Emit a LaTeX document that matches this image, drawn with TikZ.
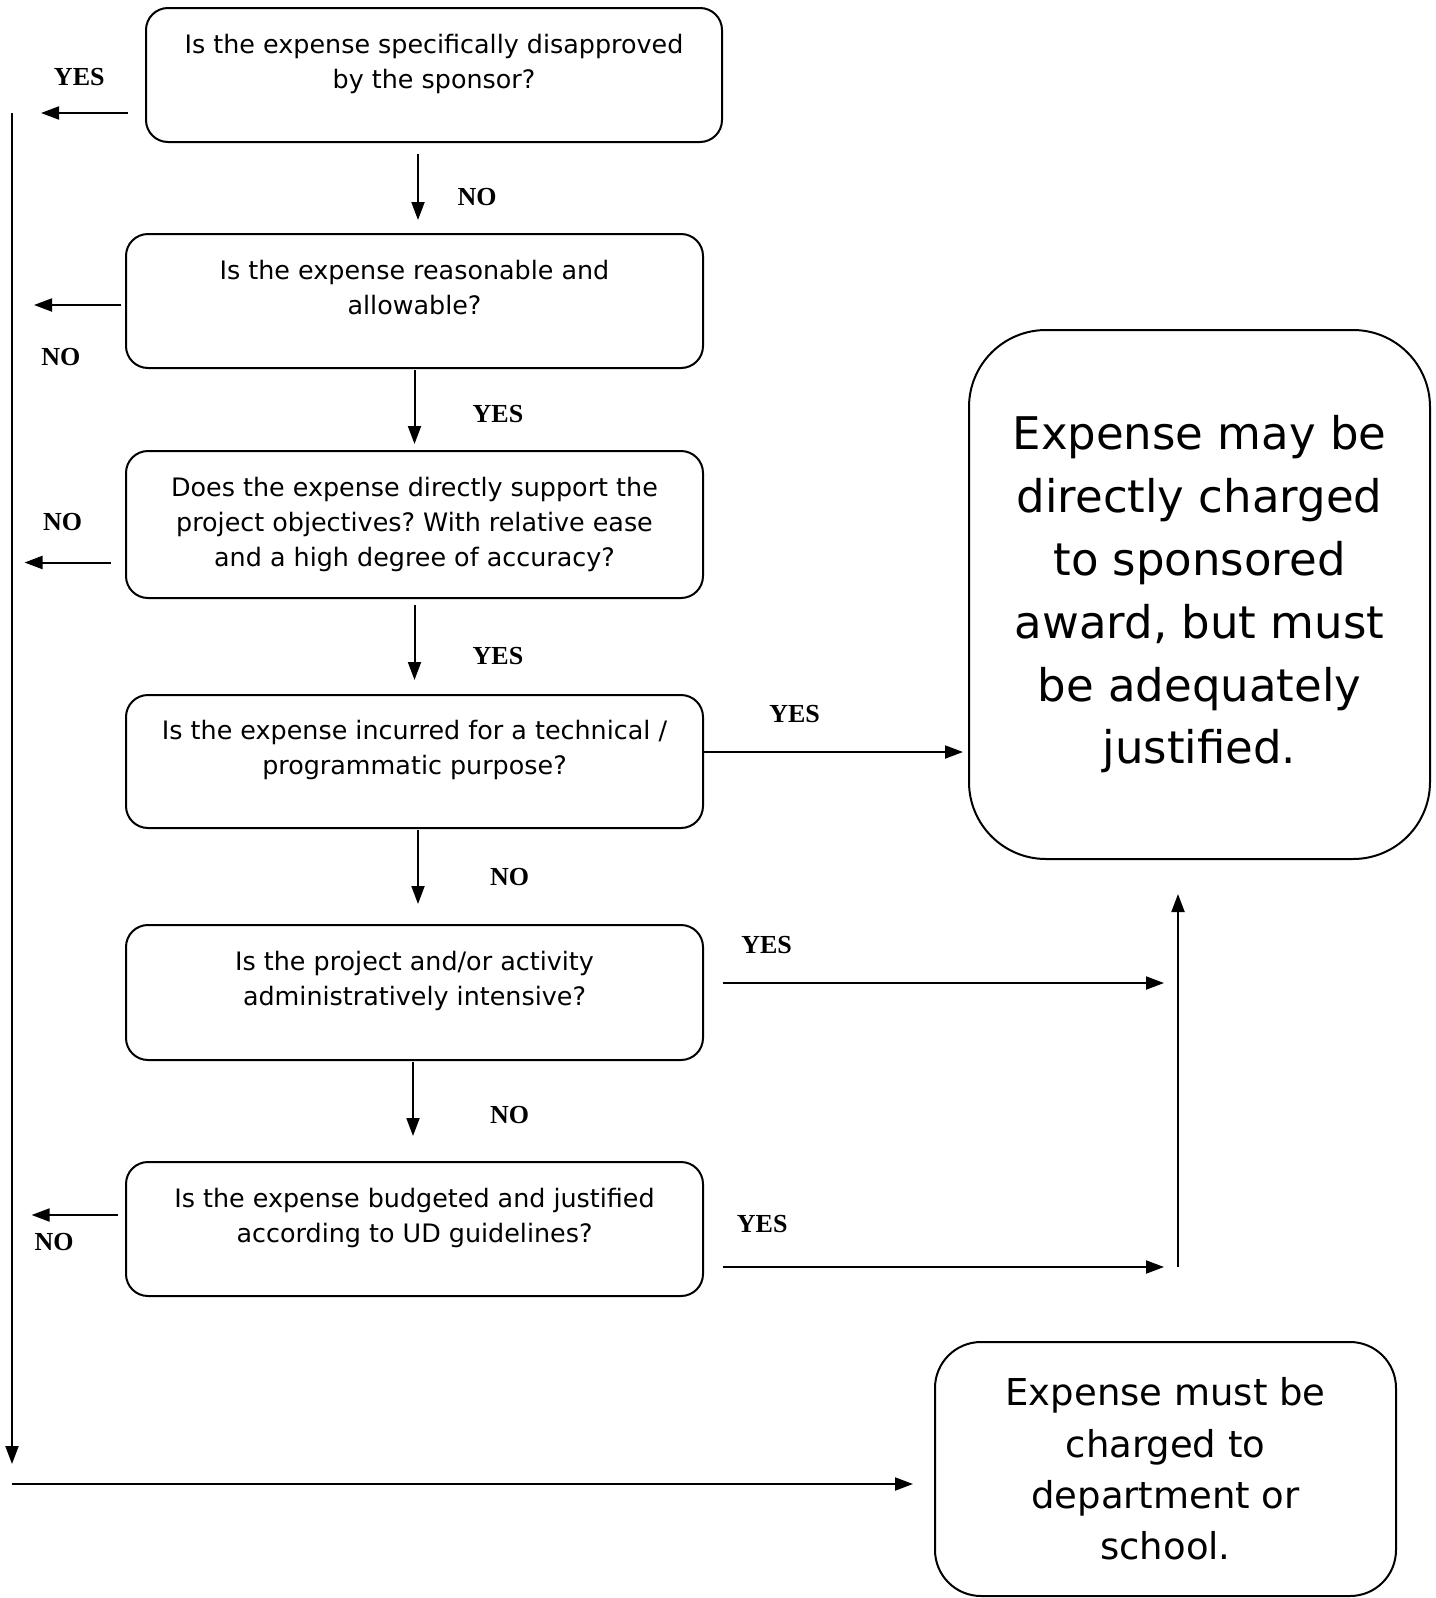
\documentclass[tikz,border=0pt]{standalone}
\usepackage{fontspec}
\setmainfont{DejaVu Sans}
\newfontfamily\answerfont{Liberation Serif}
\usetikzlibrary{arrows.meta}
\frenchspacing

\tikzset{
  question/.style={draw, line width=2pt, rounded corners=22pt, inner sep=0pt,
    minimum width=577pt, minimum height=134pt, align=center,
    font=\fontsize{25.4}{35}\selectfont, text depth=28pt},
  outcome/.style={draw, line width=2pt, inner sep=0pt, minimum width=461pt, align=center},
  answer/.style={font=\answerfont\bfseries\fontsize{26}{30}\selectfont},
  flow/.style={-{Triangle[length=18pt,width=13pt]}, line width=2pt}
}

\begin{document}
\begin{tikzpicture}[x=1pt,y=-1pt]
\useasboundingbox (0,0) rectangle (1435,1598);
% questions
\node[question, minimum width=576pt] (q1) at (434,75) {Is the expense specifically disapproved\\by the sponsor?};
\node[question] (q2) at (414.5,301) {Is the expense reasonable and\\allowable?};
\node[question, minimum height=147pt, text depth=6pt] (q3) at (414.5,524.5) {Does the expense directly support the\\project objectives? With relative ease\\and a high degree of accuracy?};
\node[question, minimum height=133pt] (q4) at (414.5,761.5) {Is the expense incurred for a technical /\\programmatic purpose?};
\node[question, minimum height=135pt] (q5) at (414.5,992.5) {Is the project and/or activity\\administratively intensive?};
\node[question] (q6) at (414.5,1229) {Is the expense budgeted and justified\\according to UD guidelines?};

% outcomes
\node[outcome, rounded corners=77pt, minimum height=529pt, font=\fontsize{45}{62.8}\selectfont] (ok) at (1199.5,594.5) {Expense may be\\directly charged\\to sponsored\\award, but must\\be adequately\\justified.};
\node[outcome, rounded corners=46pt, minimum height=254pt, font=\fontsize{37}{51.3}\selectfont] (bad) at (1165.5,1469) {Expense must be\\charged to\\department or\\school.};

% loose ends
\coordinate (c1) at (41,113);
\coordinate (c2) at (34,305);
\coordinate (c3) at (24.5,562.5);
\coordinate (c5) at (1164,983);
\coordinate (c6) at (31.6,1215);
\coordinate (c7) at (1164,1267);
\coordinate (rise) at (1178,1267);
\coordinate (railtop) at (12,113);
\coordinate (railbot) at (12,1464);
\coordinate (feed) at (12,1484);

% down the spine
\path[flow]
([xshift=-16pt,yshift=-11pt]q1.south) edge node[answer, pos=.65, xshift=59pt]{NO} ([xshift=3.5pt,yshift=13pt]q2.north)
([yshift=-1pt]q2.south) edge node[answer, pos=.59, xshift=83.5pt]{YES} ([yshift=6pt]q3.north)
([yshift=-6pt]q3.south) edge node[answer, pos=.675, xshift=83.5pt]{YES} ([yshift=14pt]q4.north)
([xshift=3.5pt,yshift=-1pt]q4.south) edge node[answer, pos=.63, xshift=91.5pt]{NO} ([xshift=3.5pt,yshift=20pt]q5.north)
([xshift=-1.5pt,yshift=-1pt]q5.south) edge node[answer, pos=.72, xshift=96.5pt]{NO} ([xshift=-1.5pt,yshift=25pt]q6.north);

% to the left
\path[flow]
([xshift=-17pt,yshift=-38pt]q1.west) edge node[answer, pos=.56, yshift=35.5pt]{YES} (c1)
([xshift=-4pt,yshift=-4pt]q2.west) edge node[answer, pos=.69, yshift=-52pt]{NO} (c2)
([xshift=-14pt,yshift=-38pt]q3.west) edge node[answer, pos=.56, yshift=40.5pt]{NO} (c3)
([xshift=-7pt,yshift=14pt]q6.west) edge node[answer, pos=.74, yshift=-27pt]{NO} (c6);

% to the right
\path[flow]
([yshift=9.5pt]q4.east) edge node[answer, pos=.35, yshift=38pt]{YES} ([xshift=-5pt,yshift=-157.5pt]ok.west)
([xshift=18.5pt,yshift=9.5pt]q5.east) edge node[answer, pos=.1, yshift=38pt]{YES} (c5)
([xshift=18.5pt,yshift=-38pt]q6.east) edge node[answer, pos=.09, yshift=43pt]{YES} (c7)
(rise) edge ([xshift=-21.5pt,yshift=-34pt]ok.south);

% rail to the department
\path[flow]
(railtop) edge (railbot)
(feed) edge ([xshift=-21pt,yshift=-15pt]bad.west);
\end{tikzpicture}
\end{document}
